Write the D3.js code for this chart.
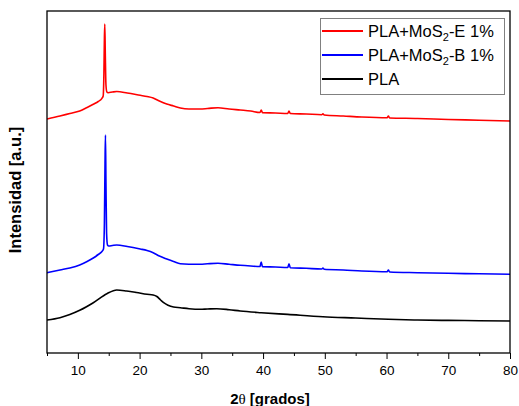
<!DOCTYPE html>
<html>
<head>
<meta charset="utf-8">
<script src="https://cdn.jsdelivr.net/npm/d3@7"></script>
<style>
  html, body { margin: 0; padding: 0; background: #fff; }
  svg { display: block; }
  text { font-family: "Liberation Sans", Arial, sans-serif; }
</style>
</head>
<body>
<svg id="chart" width="519" height="406"></svg>
<script>
// ---- data (2θ in degrees, intensity in arbitrary units) ----
const seriesNames = ["PLA+MoS2-E 1%", "PLA+MoS2-B 1%", "PLA"];
const seriesColors = ["#ff0000", "#0000ff", "#000000"];

const angleRed = [5, 7.1, 8.7, 10.3, 11.5, 12.5, 13.3, 13.9, 14.1, 14.22, 14.3, 14.36, 14.44, 14.55, 14.7, 14.9, 15.6, 16.3, 18, 20.1, 21.2, 22.2, 23.2, 24.4, 25.5, 26.6, 28, 29.8, 31, 32.7, 34.5, 36.3, 38, 39.5, 39.7, 39.9, 42, 44.0, 44.2, 44.4, 47, 49.5, 49.7, 49.9, 53, 56, 60.1, 60.3, 60.5, 65, 70, 75, 80];
const intRed   = [234, 237, 239.5, 242, 245.5, 248.7, 251.5, 254.7, 257, 280, 315, 329, 300, 268, 261, 260.3, 261, 261.5, 260, 257.7, 256.5, 255, 252, 249, 247, 245, 244, 244, 244.5, 245.3, 244, 243, 242, 240.5, 243, 240.3, 240, 239.5, 242, 239.5, 239, 238.3, 239.3, 238, 237, 236, 235.3, 237, 235, 234.5, 233.5, 232.8, 232];

const angleBlue = [5, 7.1, 8.7, 10.3, 11.5, 12.5, 13.3, 13.9, 14.15, 14.3, 14.4, 14.47, 14.55, 14.65, 14.8, 15, 15.6, 16.3, 18, 20.1, 21.2, 22.2, 23.2, 24.4, 25.5, 26.6, 28, 29.8, 31, 32.7, 34.5, 36.3, 38, 39.5, 39.7, 39.9, 42, 44.0, 44.2, 44.4, 47, 49.5, 49.7, 49.9, 53, 56, 60.1, 60.3, 60.5, 65, 70, 75, 80];
const intBlue   = [80.3, 83, 85, 88, 91.5, 95, 98.5, 101.5, 104, 130, 190, 218, 170, 120, 108, 107, 107.5, 108, 106.5, 104, 102.5, 100.3, 97, 94, 91.5, 89.3, 88.8, 88.7, 89.2, 89.7, 88.7, 87.7, 87, 86.5, 91, 86.3, 86, 85.5, 89.3, 85.3, 84.7, 84, 85, 83.7, 83, 82, 81.3, 83, 81, 80.3, 79.7, 79.2, 78.7];

const anglePLA = [5, 7.1, 8.7, 10.3, 12.5, 14.7, 16.3, 17.9, 19.5, 21.2, 22.2, 22.8, 23.4, 23.9, 24.6, 25.5, 26.6, 28, 29.8, 31, 32.5, 34.5, 36.3, 39.7, 44, 49.7, 55, 60.3, 65, 70, 75, 80];
const intPLA   = [33, 35.3, 38.5, 42.7, 50.3, 59.3, 63, 62, 60.5, 58.7, 58, 56.5, 53, 50.3, 47.8, 46, 45.3, 44.3, 43.7, 44, 44.3, 43.3, 42, 40.3, 38.6, 36.3, 35, 33.7, 33, 32.6, 32.3, 32];

const xTicks = [10, 20, 30, 40, 50, 60, 70, 80];
const xMinorTicks = [5, 15, 25, 35, 45, 55, 65, 75];

// ---- layout ----
const svg = d3.select("#chart");
const pL = 47, pR = 510, pT = 11, pB = 353;

const x = d3.scaleLinear().domain([5, 80]).range([pL, pR]);
const y = d3.scaleLinear().domain([0, 342]).range([pB, pT]);

svg.append("defs").append("clipPath").attr("id", "clip")
  .append("rect").attr("x", pL).attr("y", pT)
  .attr("width", pR - pL).attr("height", pB - pT);

const line = d3.line().x(d => x(d[0])).y(d => y(d[1])).curve(d3.curveMonotoneX);

const series = [
  {angles: angleRed, vals: intRed, color: seriesColors[0]},
  {angles: angleBlue, vals: intBlue, color: seriesColors[1]},
  {angles: anglePLA, vals: intPLA, color: seriesColors[2]}
];

const g = svg.append("g").attr("clip-path", "url(#clip)");
series.slice().reverse().forEach(s => {
  g.append("path")
    .datum(s.angles.map((a, i) => [a, s.vals[i]]))
    .attr("fill", "none")
    .attr("stroke", s.color)
    .attr("stroke-width", 1.6)
    .attr("stroke-linejoin", "round")
    .attr("d", line);
});

// ---- bottom axis ----
const xAxis = d3.axisBottom(x).tickValues(xTicks).tickSize(6).tickPadding(6)
  .tickFormat(d3.format("d"));
const ax = svg.append("g").attr("transform", `translate(0,${pB})`).call(xAxis);
ax.select(".domain").remove();
ax.selectAll(".tick line").attr("stroke", "#000").attr("stroke-width", 1);
ax.selectAll(".tick text").attr("font-size", "13.5px").attr("fill", "#000")
  .attr("font-family", "Liberation Sans, Arial, sans-serif");

const minor = d3.axisBottom(x).tickValues(xMinorTicks).tickSize(3).tickFormat("");
const mx = svg.append("g").attr("transform", `translate(0,${pB})`).call(minor);
mx.select(".domain").remove();
mx.selectAll(".tick line").attr("stroke", "#000");

// frame
svg.append("rect").attr("x", pL).attr("y", pT)
  .attr("width", pR - pL).attr("height", pB - pT)
  .attr("fill", "none").attr("stroke", "#000").attr("stroke-width", 1.3);

// axis titles
const xt = svg.append("text").attr("x", 270).attr("y", 404)
  .attr("text-anchor", "middle").attr("font-weight", "bold").attr("font-size", "15px");
xt.append("tspan").text("2");
xt.append("tspan").attr("font-family", "Liberation Serif, serif").attr("font-weight", "normal").text("θ");
xt.append("tspan").text(" [grados]");

svg.append("text")
  .attr("transform", "translate(21,190) rotate(-90)")
  .attr("text-anchor", "middle").attr("font-weight", "bold").attr("font-size", "16.5px")
  .text("Intensidad [a.u.]");

// ---- legend ----
const lg = svg.append("g");
lg.append("rect").attr("x", 320.5).attr("y", 18.5).attr("width", 184).attr("height", 76)
  .attr("fill", "#fff").attr("stroke", "#808080").attr("stroke-width", 1);

const legendRows = [
  {main: "PLA+MoS", sub: "2", tail: "-E 1%", color: seriesColors[0]},
  {main: "PLA+MoS", sub: "2", tail: "-B 1%", color: seriesColors[1]},
  {main: "PLA", sub: null, tail: "", color: seriesColors[2]}
];
legendRows.forEach((r, i) => {
  const yy = 31 + i * 24;
  lg.append("line").attr("x1", 322).attr("x2", 363).attr("y1", yy).attr("y2", yy)
    .attr("stroke", r.color).attr("stroke-width", 2);
  const t = lg.append("text").attr("x", 368).attr("y", yy + 6).attr("font-size", "16.5px").attr("fill", "#000");
  t.append("tspan").text(r.main);
  if (r.sub) {
    t.append("tspan").attr("font-size", "11px").attr("dy", 4).text(r.sub);
    t.append("tspan").attr("dy", -4).text(r.tail);
  }
});
</script>
</body>
</html>
